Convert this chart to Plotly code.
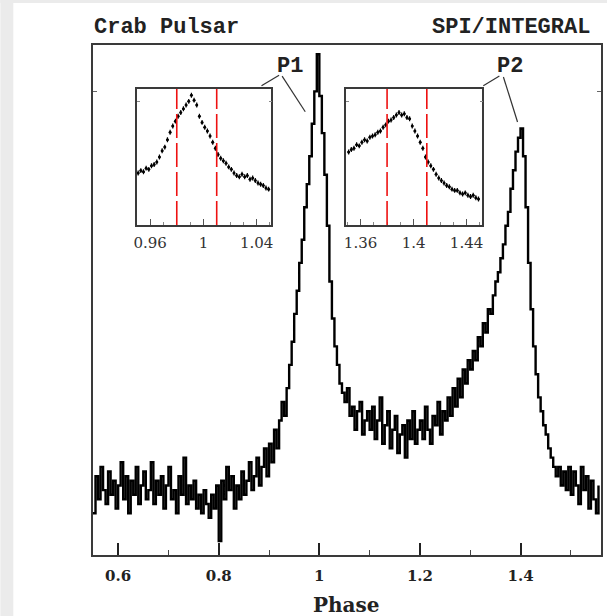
import plotly.graph_objects as go

# ---------------- data ----------------
PHASE_START = 0.55
BIN_WIDTH = 0.005
# pulse profile (arbitrary counts), one value per phase bin
profile = [
    9, 17, 12, 19, 14, 11, 18, 13, 16, 10,
    15, 20, 12, 17, 9, 16, 13, 19, 11, 15,
    18, 12, 14, 20, 11, 16, 13, 17, 10, 15,
    19, 12, 14, 9, 17, 13, 21, 11, 15, 12,
    16, 10, 13, 9, 14, 11, 8, 13, 10, 15,
    3, 16, 12, 19, 14, 17, 10, 15, 12, 18,
    13, 16, 20, 14, 17, 21, 15, 19, 23, 17,
    24, 20, 27, 23, 29, 33, 30, 36, 41, 46,
    52, 57, 63, 68, 75, 80, 86, 93, 100, 108,
    99, 91, 82, 71, 59, 51, 45, 41, 37, 35,
    33, 36, 30, 32, 27, 31, 33, 26, 29, 31,
    27, 32, 25, 29, 34, 24, 28, 31, 23, 27,
    30, 22, 26, 28, 21, 29, 25, 31, 24, 27,
    29, 25, 32, 27, 24, 30, 28, 33, 26, 31,
    29, 34, 30, 36, 32, 38, 34, 40, 37, 42,
    40, 44, 42, 47, 45, 50, 48, 53, 52, 56,
    59, 61, 64, 67, 71, 74, 79, 83, 87, 90,
    92, 86, 75, 63, 53, 45, 39, 34, 31, 28,
    26, 23, 21, 19, 17, 19, 15, 18, 14, 19,
    13, 18, 15, 11, 19, 14, 17, 10, 16, 12,
    9, 15,
]
phase_bins = [round(PHASE_START + BIN_WIDTH * i, 4) for i in range(len(profile))]

# inset P1 (zoom)
p1_phase = [0.951, 0.953, 0.955, 0.957, 0.959, 0.961, 0.963, 0.965, 0.967, 0.969,
            0.971, 0.973, 0.975, 0.977, 0.979, 0.981, 0.983, 0.985, 0.987, 0.989,
            0.991, 0.993, 0.995, 0.997, 0.999, 1.001, 1.003, 1.005, 1.007, 1.009,
            1.011, 1.013, 1.015, 1.017, 1.019, 1.021, 1.023, 1.025, 1.027, 1.029,
            1.031, 1.033, 1.035, 1.037, 1.039, 1.041, 1.043, 1.045, 1.047, 1.049]
p1_counts = [42, 44, 43, 46, 45, 48, 49, 51, 55, 60,
             63, 69, 75, 80, 84, 88, 91, 94, 97, 100,
             105, 101, 97, 88, 83, 79, 76, 72, 67, 62,
             57, 54, 52, 50, 47, 45, 42, 40, 39, 41,
             39, 40, 37, 38, 36, 34, 33, 32, 30, 29]

# inset P2 (zoom)
p2_phase = [1.351, 1.353, 1.355, 1.357, 1.359, 1.361, 1.363, 1.365, 1.367, 1.369,
            1.371, 1.373, 1.375, 1.377, 1.379, 1.381, 1.383, 1.385, 1.387, 1.389,
            1.391, 1.393, 1.395, 1.397, 1.399, 1.401, 1.403, 1.405, 1.407, 1.409,
            1.411, 1.413, 1.415, 1.417, 1.419, 1.421, 1.423, 1.425, 1.427, 1.429,
            1.431, 1.433, 1.435, 1.437, 1.439, 1.441, 1.443, 1.445, 1.447, 1.449]
p2_counts = [59, 61, 62, 65, 64, 67, 69, 68, 71, 72,
             73, 75, 76, 79, 81, 84, 85, 87, 89, 91,
             89, 90, 87, 86, 80, 76, 72, 67, 62, 55,
             51, 48, 45, 41, 38, 36, 34, 32, 31, 29,
             28, 28, 26, 25, 26, 24, 23, 24, 22, 21]

p1_window = [0.98, 1.01]
p2_window = [1.38, 1.41]

main_ticks = [0.6, 0.8, 1.0, 1.2, 1.4]
main_ticktext = ["0.6", "0.8", "1", "1.2", "1.4"]
inset1_ticks = [0.96, 1.0, 1.04]
inset1_ticktext = ["0.96", "1", "1.04"]
inset2_ticks = [1.36, 1.40, 1.44]
inset2_ticktext = ["1.36", "1.4", "1.44"]

# ---------------- figure ----------------
W, H = 609, 616
L, R, T, B = 93, 6, 45, 61
PW, PH = W - L - R, H - T - B


def px(xp):
    return (xp - L) / PW


def py(yp):
    return (H - B - yp) / PH


fig = go.Figure()

fig.add_trace(go.Scatter(
    x=phase_bins, y=profile, mode="lines", line=dict(color="black", width=2.4, shape="hv"),
    xaxis="x", yaxis="y", showlegend=False, hoverinfo="skip"))

for xs, ys, xa, ya in [(p1_phase, p1_counts, "x2", "y2"), (p2_phase, p2_counts, "x3", "y3")]:
    fig.add_trace(go.Scatter(
        x=xs, y=ys, mode="markers",
        marker=dict(color="black", size=3),
        error_y=dict(type="constant", value=2, thickness=1.2, width=0, color="black"),
        error_x=dict(type="constant", value=0.0008, thickness=1.2, width=0, color="black"),
        xaxis=xa, yaxis=ya, showlegend=False, hoverinfo="skip"))

axis_line = dict(showline=True, linecolor="#3a3a3a", linewidth=1.5, zeroline=False, showgrid=False)

fig.update_layout(
    width=W, height=H,
    margin=dict(l=L, r=R, t=T, b=B),
    paper_bgcolor="white", plot_bgcolor="white",
    xaxis=dict(domain=[0, 1], range=[0.55, 1.56], tickvals=main_ticks, ticktext=main_ticktext,
               ticks="inside", ticklen=12, tickwidth=1.5, tickcolor="#222", mirror=True,
               minor=dict(dtick=0.1, tick0=0.5, ticks="inside", ticklen=5, tickwidth=1.2, tickcolor="#444"),
               tickfont=dict(family="DejaVu Serif", size=15, color="#222", weight="bold"),
               ticklabelstandoff=6, **axis_line),
    yaxis=dict(domain=[0, 1], range=[0, 110], tickvals=[100], showticklabels=False,
               ticks="inside", ticklen=4, tickwidth=1.2, tickcolor="#666", mirror="ticks", **axis_line),
    xaxis2=dict(domain=[px(137), px(272)], anchor="y2", range=[0.95, 1.051],
                tickvals=inset1_ticks, ticktext=inset1_ticktext, ticks="inside", ticklen=6,
                tickwidth=1.2, tickcolor="#555", mirror=True,
                minor=dict(dtick=0.01, tick0=0.95, ticks="inside", ticklen=3, tickcolor="#888"),
                tickfont=dict(family="DejaVu Serif", size=15, color="#333"), ticklabelstandoff=3,
                **axis_line),
    yaxis2=dict(domain=[py(225), py(89)], anchor="x2", range=[0, 110], tickvals=[100],
                showticklabels=False, ticks="inside", ticklen=3, tickcolor="#888", mirror="ticks",
                **axis_line),
    xaxis3=dict(domain=[px(347), px(484)], anchor="y3", range=[1.349, 1.452],
                tickvals=inset2_ticks, ticktext=inset2_ticktext, ticks="inside", ticklen=6,
                tickwidth=1.2, tickcolor="#555", mirror=True,
                minor=dict(dtick=0.01, tick0=1.35, ticks="inside", ticklen=3, tickcolor="#888"),
                tickfont=dict(family="DejaVu Serif", size=15, color="#333"), ticklabelstandoff=3,
                **axis_line),
    yaxis3=dict(domain=[py(225), py(89)], anchor="x3", range=[0, 110], tickvals=[100],
                showticklabels=False, ticks="inside", ticklen=3, tickcolor="#888", mirror="ticks",
                **axis_line),
)

shapes = []
# grey page border strips
shapes.append(dict(type="rect", xref="paper", yref="paper", x0=px(0), x1=px(13), y0=py(H), y1=py(0),
                   fillcolor="#ebebeb", line=dict(width=0), layer="below"))
shapes.append(dict(type="rect", xref="paper", yref="paper", x0=px(0), x1=px(W), y0=py(3), y1=py(0),
                   fillcolor="#ebebeb", line=dict(width=0), layer="below"))
# red phase windows
for xa, win in [("x2", p1_window), ("x3", p2_window)]:
    for xv in win:
        shapes.append(dict(type="line", xref=xa, yref=xa.replace("x", "y") + " domain",
                           x0=xv, x1=xv, y0=0, y1=1,
                           line=dict(color="#ee1111", width=1.6, dash="24px,5px")))
# leader lines for P1 / P2 labels
leaders = [((0.926, 103.3), (0.972, 95.6)), ((0.920, 103.5), (0.885, 101.2)),
           ((1.366, 103.1), (1.394, 93.4)), ((1.358, 103.3), (1.326, 101.2))]
for (xa0, ya0), (xa1, ya1) in leaders:
    shapes.append(dict(type="line", xref="x", yref="y", x0=xa0, y0=ya0, x1=xa1, y1=ya1,
                       line=dict(color="#333", width=1.2)))
fig.update_layout(shapes=shapes)

title_font = dict(family="Liberation Mono", size=22, color="#222", weight="bold")
fig.add_annotation(text="Crab Pulsar", xref="paper", yref="paper", x=px(92), y=py(28),
                   xanchor="left", yanchor="middle", showarrow=False, font=title_font)
fig.add_annotation(text="SPI/INTEGRAL", xref="paper", yref="paper", x=px(594), y=py(28),
                   xanchor="right", yanchor="middle", showarrow=False, font=title_font)
fig.add_annotation(text="P1", xref="x", yref="y", x=0.942, y=105.3, showarrow=False,
                   xanchor="center", yanchor="middle", font=title_font)
fig.add_annotation(text="P2", xref="x", yref="y", x=1.380, y=105.3, showarrow=False,
                   xanchor="center", yanchor="middle", font=title_font)
fig.add_annotation(text="Phase", xref="paper", yref="paper", x=px(347), y=py(605),
                   xanchor="center", yanchor="middle", showarrow=False,
                   font=dict(family="DejaVu Serif", size=20, color="#222", weight="bold"))

fig.write_html("out.html", config={"displayModeBar": False},
               post_script="document.body.style.margin='0';document.body.style.overflow='hidden';")
